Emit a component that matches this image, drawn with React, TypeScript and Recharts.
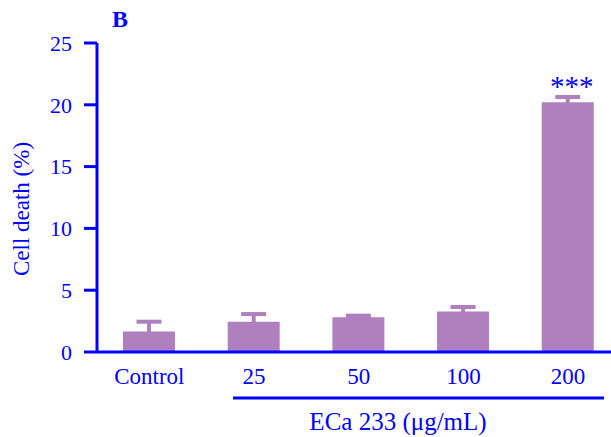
import React from "react";
import {
  BarChart,
  Bar,
  XAxis,
  YAxis,
  ErrorBar,
  LabelList,
  Label,
  Customized,
} from "recharts";

const categories = ["Control", "25", "50", "100", "200"];
const meanValues = [1.65, 2.45, 2.82, 3.28, 20.2];
const errValues = [0.8, 0.62, 0.12, 0.36, 0.43];
const sigMarks = ["", "", "", "", "***"];
const yTicks = [0, 5, 10, 15, 20, 25];

const BLUE = "#0000ff";
const BAR = "#b07fbe";
const FONT = "'Liberation Serif', 'Times New Roman', serif";

const data = categories.map((name, i) => ({
  pos: i,
  name,
  mean: meanValues[i],
  err: errValues[i],
  sig: sigMarks[i],
}));

// bracket line + title under the dose labels
function XTitle(props: any) {
  const vb = props.viewBox || {};
  const x0 = vb.x ?? 97;
  const y0 = vb.y ?? 352;
  return (
    <g>
      <line
        x1={x0 + 136}
        x2={x0 + 507}
        y1={y0 + 46}
        y2={y0 + 46}
        stroke={BLUE}
        strokeWidth={3}
      />
      <text
        x={x0 + 301}
        y={y0 + 78}
        textAnchor="middle"
        fill={BLUE}
        fontFamily={FONT}
        fontSize={25}
      >
        ECa 233 (μg/mL)
      </text>
    </g>
  );
}

function YTitle() {
  return (
    <text
      x={0}
      y={0}
      transform="translate(29, 209) rotate(-90)"
      textAnchor="middle"
      fill={BLUE}
      fontFamily={FONT}
      fontSize={23}
    >
      Cell death (%)
    </text>
  );
}

function PanelLetter() {
  return (
    <text
      x={112}
      y={27}
      fill={BLUE}
      fontFamily={FONT}
      fontSize={24}
      fontWeight="bold"
    >
      B
    </text>
  );
}

export default function App() {
  return (
    <div style={{ position: "absolute", left: 0, top: 0, width: 611, height: 437, background: "#fff" }}>
      <BarChart
        width={611}
        height={437}
        data={data}
        margin={{ top: 43, right: 0, left: 0, bottom: 0 }}
      >
        <XAxis
          dataKey="pos"
          type="number"
          domain={[-0.5, 4.41]}
          ticks={[0, 1, 2, 3, 4]}
          allowDataOverflow
          tickFormatter={(v) => categories[v]}
          height={85}
          axisLine={{ stroke: BLUE, strokeWidth: 3 }}
          tickLine={false}
          tickSize={0}
          tickMargin={16}
          tick={{ fill: BLUE, fontSize: 23, fontFamily: FONT }}
        >
          <Label content={<XTitle />} />
        </XAxis>
        <YAxis
          width={97}
          domain={[0, 25]}
          ticks={yTicks}
          axisLine={{ stroke: BLUE, strokeWidth: 3 }}
          tickLine={{ stroke: BLUE, strokeWidth: 3 }}
          tickSize={13}
          tickMargin={12}
          tick={{ fill: BLUE, fontSize: 22, fontFamily: FONT }}
        />
        <Bar dataKey="mean" fill={BAR} barSize={52} isAnimationActive={false}>
          <ErrorBar
            dataKey="err"
            direction="y"
            width={12.5}
            strokeWidth={4}
            stroke={BAR}
          />
          <LabelList
            dataKey="sig"
            position="top"
            offset={6}
            dx={4}
            fill={BLUE}
            fontSize={29}
            fontFamily={FONT}
          />
        </Bar>
        <Customized component={YTitle} />
        <Customized component={PanelLetter} />
      </BarChart>
    </div>
  );
}
